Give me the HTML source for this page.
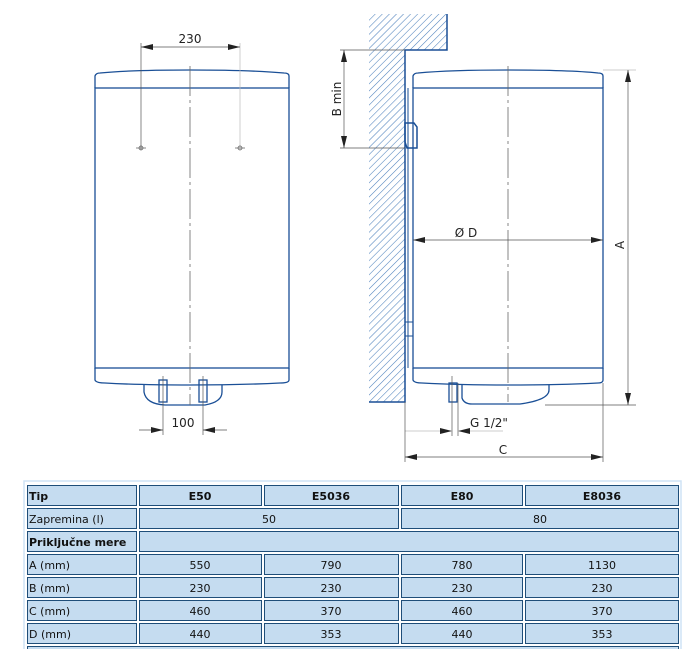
<!DOCTYPE html>
<html><head><meta charset="utf-8"><style>
html,body{margin:0;padding:0;background:#fff;width:697px;height:649px;overflow:hidden}
svg{position:absolute;left:0;top:0}
text{font-family:"DejaVu Sans","Liberation Sans",sans-serif}
</style></head><body>
<svg width="697" height="649" viewBox="0 0 697 649" xmlns="http://www.w3.org/2000/svg">
<defs>
<pattern id="h" width="5" height="5" patternUnits="userSpaceOnUse" patternTransform="rotate(45)">
<line x1="0" y1="0" x2="0" y2="5" stroke="#4f82bd" stroke-width="1.1"/>
</pattern>
<marker id="a" markerWidth="12" markerHeight="6" refX="12" refY="3" orient="auto-start-reverse" markerUnits="userSpaceOnUse">
<path d="M0,0 L12,3 L0,6 z" fill="#222"/></marker>
</defs>
<g fill="none" stroke="#1a4f96" stroke-width="1.3">
<path d="M95,88 L95,76 Q96,73 100,73 Q130,70 190,70 Q250,70 284,73 Q289,73 289,76 L289,88"/>
<rect x="95" y="88" width="194" height="280"/>
<path d="M95,368 L95,380 Q96,383 105,383 Q140,385 190,385 Q240,385 280,383 Q289,383 289,380 L289,368"/>
<path d="M144,385 L144,392 Q146,404 165,405 L205,405 Q222,402 222,392 L222,385"/>
<rect x="159" y="380" width="8" height="22"/>
<rect x="199" y="380" width="8" height="22"/>
<path d="M413,88 L413,76 Q414,73 418,73 Q450,70 508,70 Q570,70 598,73 Q603,73 603,76 L603,88"/>
<rect x="413" y="88" width="190" height="280"/>
<path d="M413,368 L413,380 Q414,383 422,383 Q460,385 508,385 Q560,385 598,383 Q603,383 603,380 L603,368"/>
<path d="M462,385 L462,398 Q464,404 472,404 L520,404 Q549,400 549,390 L549,385"/>
<rect x="449" y="383" width="8" height="19"/>
<line x1="408" y1="88" x2="408" y2="368" stroke-width="1"/>
<rect x="405" y="322" width="8" height="14" stroke-width="1"/>
<path d="M405,123 L414,123 L417,127 L417,148 L407,148 L405,142 Z" stroke-width="1.5"/>
</g>
<path d="M369,14 L447,14 L447,50 L405,50 L405,402 L369,402 Z" fill="url(#h)"/>
<path d="M447,14 L447,50 L405,50 L405,402 L369,402" fill="none" stroke="#1a4f96" stroke-width="1.5"/>
<g stroke="#666" stroke-width="0.8" stroke-dasharray="30,4,3,4">
<line x1="190" y1="66" x2="190" y2="405"/>
<line x1="508" y1="66" x2="508" y2="402"/>
</g>
<g stroke="#555" stroke-width="0.7" fill="none">
<line x1="141" y1="43" x2="141" y2="150"/>
<line x1="240" y1="43" x2="240" y2="150" stroke="#bbb"/>
<line x1="141" y1="47" x2="240" y2="47" marker-start="url(#a)" marker-end="url(#a)"/>
<circle cx="141" cy="148" r="2"/><line x1="136" y1="148" x2="146" y2="148"/>
<circle cx="240" cy="148" r="2"/><line x1="235" y1="148" x2="245" y2="148"/>
<line x1="163" y1="376" x2="163" y2="435"/>
<line x1="203" y1="376" x2="203" y2="435"/>
<line x1="139" y1="430" x2="163" y2="430" marker-end="url(#a)"/>
<line x1="227" y1="430" x2="203" y2="430" marker-end="url(#a)"/>
<line x1="340" y1="50" x2="405" y2="50"/>
<line x1="340" y1="148" x2="405" y2="148"/>
<line x1="344" y1="50" x2="344" y2="148" marker-start="url(#a)" marker-end="url(#a)"/>
<line x1="603" y1="70" x2="636" y2="70" stroke="#bbb"/>
<line x1="545" y1="405" x2="636" y2="405"/>
<line x1="628" y1="70" x2="628" y2="405" marker-start="url(#a)" marker-end="url(#a)"/>
<line x1="413" y1="240" x2="603" y2="240" marker-start="url(#a)" marker-end="url(#a)"/>
<line x1="452" y1="376" x2="452" y2="436"/>
<line x1="458" y1="383" x2="458" y2="436"/>
<line x1="405" y1="431" x2="452" y2="431" marker-end="url(#a)" stroke="#bbb"/>
<line x1="503" y1="431" x2="458" y2="431" marker-end="url(#a)" stroke="#bbb"/>
<line x1="405" y1="402" x2="405" y2="462"/>
<line x1="603" y1="383" x2="603" y2="462"/>
<line x1="405" y1="457" x2="603" y2="457" marker-start="url(#a)" marker-end="url(#a)"/>
</g>
<g font-size="12" fill="#222">
<text x="190" y="43" text-anchor="middle">230</text>
<text x="183" y="427" text-anchor="middle">100</text>
<text x="466" y="237" text-anchor="middle">Ø D</text>
<text x="470" y="427">G 1/2"</text>
<text x="503" y="454" text-anchor="middle">C</text>
<text transform="translate(341,99) rotate(-90)" text-anchor="middle">B min</text>
<text transform="translate(624,245) rotate(-90)" text-anchor="middle">A</text>
</g>
<path d="M24,649 L24,481 L681,481 L681,649" fill="none" stroke="#cfe3f5" stroke-width="1.5"/>
<g fill="#c5dcf0" stroke="#1f4e79" stroke-width="1">
<rect x="27.5" y="485.5" width="109" height="20"/><rect x="139.5" y="485.5" width="122" height="20"/><rect x="264.5" y="485.5" width="134" height="20"/><rect x="401.5" y="485.5" width="121" height="20"/><rect x="525.5" y="485.5" width="153" height="20"/>
<rect x="27.5" y="508.5" width="109" height="20"/><rect x="139.5" y="508.5" width="259" height="20"/><rect x="401.5" y="508.5" width="277" height="20"/>
<rect x="27.5" y="531.5" width="109" height="20"/><rect x="139.5" y="531.5" width="539" height="20"/>
<rect x="27.5" y="554.5" width="109" height="20"/><rect x="139.5" y="554.5" width="122" height="20"/><rect x="264.5" y="554.5" width="134" height="20"/><rect x="401.5" y="554.5" width="121" height="20"/><rect x="525.5" y="554.5" width="153" height="20"/>
<rect x="27.5" y="577.5" width="109" height="20"/><rect x="139.5" y="577.5" width="122" height="20"/><rect x="264.5" y="577.5" width="134" height="20"/><rect x="401.5" y="577.5" width="121" height="20"/><rect x="525.5" y="577.5" width="153" height="20"/>
<rect x="27.5" y="600.5" width="109" height="20"/><rect x="139.5" y="600.5" width="122" height="20"/><rect x="264.5" y="600.5" width="134" height="20"/><rect x="401.5" y="600.5" width="121" height="20"/><rect x="525.5" y="600.5" width="153" height="20"/>
<rect x="27.5" y="623.5" width="109" height="20"/><rect x="139.5" y="623.5" width="122" height="20"/><rect x="264.5" y="623.5" width="134" height="20"/><rect x="401.5" y="623.5" width="121" height="20"/><rect x="525.5" y="623.5" width="153" height="20"/>
<rect x="27.5" y="646.5" width="651" height="20"/>
</g>
<g font-size="11" fill="#111">
<g font-weight="bold">
<text x="29" y="500">Tip</text>
<text x="200" y="500" text-anchor="middle">E50</text>
<text x="331" y="500" text-anchor="middle">E5036</text>
<text x="462" y="500" text-anchor="middle">E80</text>
<text x="602" y="500" text-anchor="middle">E8036</text>
<text x="29" y="546">Priključne mere</text>
</g>
<text x="29" y="523">Zapremina (l)</text>
<text x="269" y="523" text-anchor="middle">50</text>
<text x="540" y="523" text-anchor="middle">80</text>
<text x="29" y="569">A (mm)</text><text x="200" y="569" text-anchor="middle">550</text><text x="331" y="569" text-anchor="middle">790</text><text x="462" y="569" text-anchor="middle">780</text><text x="602" y="569" text-anchor="middle">1130</text>
<text x="29" y="592">B (mm)</text><text x="200" y="592" text-anchor="middle">230</text><text x="331" y="592" text-anchor="middle">230</text><text x="462" y="592" text-anchor="middle">230</text><text x="602" y="592" text-anchor="middle">230</text>
<text x="29" y="615">C (mm)</text><text x="200" y="615" text-anchor="middle">460</text><text x="331" y="615" text-anchor="middle">370</text><text x="462" y="615" text-anchor="middle">460</text><text x="602" y="615" text-anchor="middle">370</text>
<text x="29" y="638">D (mm)</text><text x="200" y="638" text-anchor="middle">440</text><text x="331" y="638" text-anchor="middle">353</text><text x="462" y="638" text-anchor="middle">440</text><text x="602" y="638" text-anchor="middle">353</text>
</g>
</svg>
</body></html>
